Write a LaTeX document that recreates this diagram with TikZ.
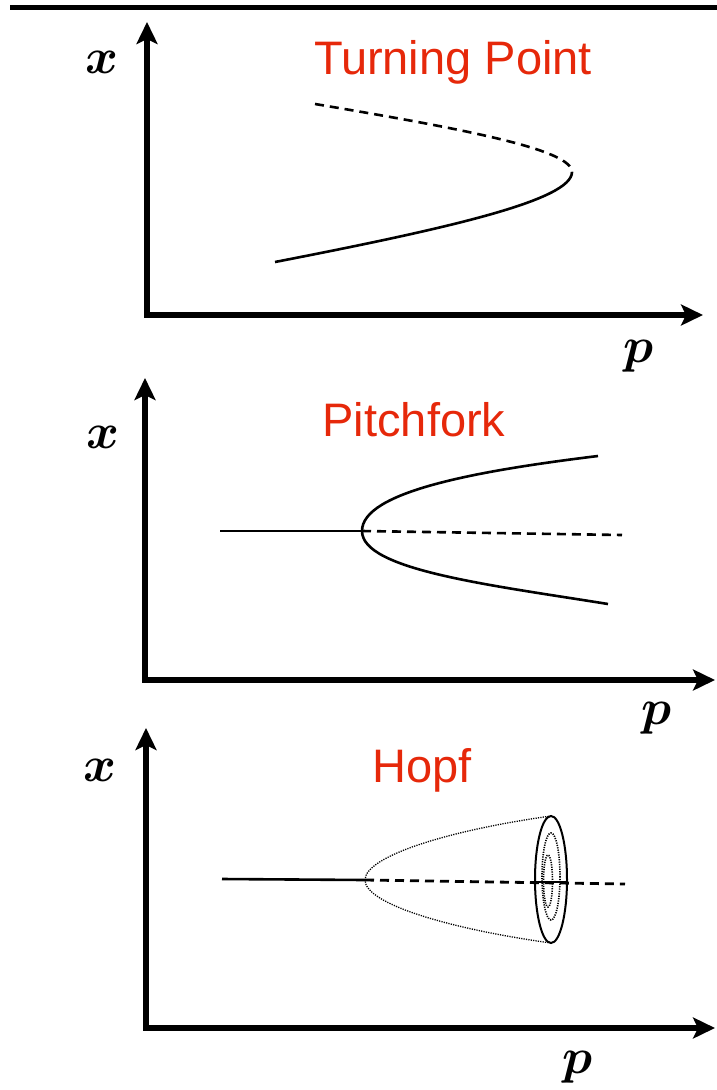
\documentclass[tikz,border=0pt]{standalone}
\usepackage{fontspec}
\newfontfamily\titlefont{Liberation Sans}
\usetikzlibrary{arrows.meta}
\definecolor{titlered}{RGB}{230,40,10}
\newcommand{\bigvar}[1]{\scalebox{5}{\boldmath$#1$}}
\tikzset{
  axisline/.style={line width=5.5pt, line join=miter,
    {Stealth[length=22pt,width=21pt,inset=5pt]}-{Stealth[length=22pt,width=21pt,inset=5pt]}},
  titlelabel/.style={inner sep=0pt, text=titlered, font=\titlefont\fontsize{47}{47}\selectfont},
  varlabel/.style={inner sep=0pt},
  stable/.style={line width=2.6pt, line cap=butt},
  unstable/.style={line width=2.6pt, dash pattern=on 9pt off 6pt},
  orbit/.style={line width=1.3pt, dash pattern=on 1.2pt off 1.2pt},
  ring/.style={line width=2pt},
}
\begin{document}
\begin{tikzpicture}[x=1pt,y=-1pt]
\useasboundingbox (0,0) rectangle (717,1090);
% top rule
\coordinate (r1) at (10,7);
\coordinate (r2) at (717,7);
\draw[line width=5pt] (r1) -- (r2);

% ---------- Panel 1: Turning point ----------
\coordinate (a1t) at (147,22);
\coordinate (a1o) at (147,315);
\coordinate (a1r) at (703,315);
\draw[axisline] (a1t) -- (a1o) -- (a1r);
\node[varlabel] (x1) at (102,62) {\bigvar{x}};
\node[varlabel] (p1) at (639,356) {\bigvar{p}};
\node[titlelabel] (t1) at (453,62) {Turning Point};
\coordinate (tpA) at (315,104);
\coordinate (tpB) at (572,172);
\coordinate (tpC) at (275,262);
\draw[unstable] (tpA) .. controls (470,130) and (572,150) .. (tpB);
\draw[stable] (tpB) .. controls (572,200) and (450,228) .. (tpC);

% ---------- Panel 2: Pitchfork ----------
\coordinate (a2t) at (145,378);
\coordinate (a2o) at (145,680);
\coordinate (a2r) at (715,680);
\draw[axisline] (a2t) -- (a2o) -- (a2r);
\node[varlabel] (x2) at (103,437) {\bigvar{x}};
\node[varlabel] (p2) at (657,718) {\bigvar{p}};
\node[titlelabel] (t2) at (414,420) {Pitchfork};
\coordinate (pfL) at (220,531);
\coordinate (pfB) at (362,531);
\coordinate (pfU) at (598,456);
\coordinate (pfD) at (608,604);
\coordinate (pfR) at (622,535);
\draw[stable] (pfL) -- (pfB);
\draw[stable] (pfU) .. controls (475,471) and (362,492) .. (pfB)
                   .. controls (362,570) and (490,585) .. (pfD);
\draw[unstable] (pfB) -- (pfR);

% ---------- Panel 3: Hopf ----------
\coordinate (a3t) at (146,728);
\coordinate (a3o) at (146,1028);
\coordinate (a3r) at (715,1028);
\draw[axisline] (a3t) -- (a3o) -- (a3r);
\node[varlabel] (x3) at (100,770) {\bigvar{x}};
\node[varlabel] (p3) at (578,1067) {\bigvar{p}};
\node[titlelabel] (t3) at (422,770) {Hopf};
\coordinate (hL) at (222,879);
\coordinate (hB) at (365,880);
\coordinate (hR) at (625,884);
\coordinate (hU) at (551,816);
\coordinate (hD) at (551,943);
\coordinate (hC) at (551,879.5);
\draw[stable] (hL) -- (hB);
\draw[unstable, line width=2.8pt] (hB) -- (hR);
\draw[orbit] (hU) .. controls (450,830) and (365,856) .. (hB)
             .. controls (365,904) and (450,929) .. (hD);
\draw[ring] (hC) ellipse [x radius=16, y radius=63.5];
\draw[orbit, line width=1.6pt] (551,876.5) ellipse [x radius=9, y radius=43.5];
\draw[orbit, line width=1.6pt] (548,881) ellipse [x radius=4.5, y radius=26];
\coordinate (hs1) at (535,882);
\coordinate (hs2) at (567,882);
\draw[line width=2.6pt] (hs1) -- (hs2);
\end{tikzpicture}
\end{document}
